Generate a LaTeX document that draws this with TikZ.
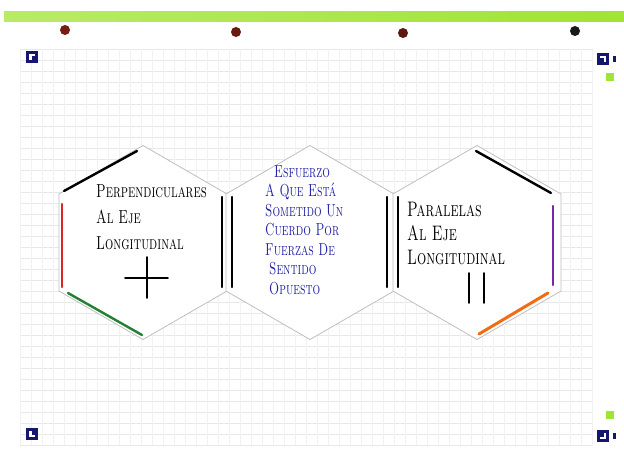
\documentclass[tikz,border=0pt]{standalone}
\usepackage{tikz}
\usepackage{graphicx}

\definecolor{band}{RGB}{160,228,52}
\definecolor{navy}{RGB}{22,22,112}
\definecolor{ink}{RGB}{34,34,165}
\definecolor{dotred}{RGB}{118,30,18}
\definecolor{markred}{RGB}{222,36,36}
\definecolor{markgreen}{RGB}{34,128,52}
\definecolor{markpurple}{RGB}{118,40,170}
\definecolor{markorange}{RGB}{242,108,22}

\newcommand{\tall}[1]{\scalebox{1}[1.45]{#1}}

\tikzset{
    gridh/.style={black!9, line width=0.4pt},
    gridv/.style={red!6!black!5, line width=0.4pt},
    hexa/.style={fill=white, draw=black!25, line width=0.8pt},
    pen/.style={line width=2.4pt, line cap=round},
    words/.style={font=\fontsize{13}{26}\selectfont\scshape, align=left, inner sep=0pt},
    blue words/.style={font=\fontsize{12}{19.5}\selectfont\scshape, text=ink, align=left, inner sep=0pt},
    marker/.pic={
        \fill[navy] (-6,-6) rectangle (6,6);
        \fill[white] (-3,-3) rectangle (3,-0.5);
        \fill[white] (-3,-3) rectangle (-0.5,3);
    }
}

\begin{document}
\begin{tikzpicture}[x=1pt, y=-1pt]
    \useasboundingbox (0,0) rectangle (624,457);
    \fill[white] (0,0) rectangle (624,457);

    % notebook page
    \shade[left color=band!75!white, right color=band] (4,12) rectangle (624,22);
    \foreach \px/\py/\col in {65/30/dotred, 236/32/dotred!90!black, 403/33/dotred!80!black, 575/31/black!90}
        \fill[\col] (\px,\py) circle (5);
    \foreach \gy in {49,60,...,446}
        \draw[gridh] (20,\gy) -- (592,\gy);
    \foreach \gx in {20,31,...,592}
        \draw[gridv] (\gx,49) -- (\gx,445);

    % corner marks
    \pic at (32,57) {marker};
    \pic[xscale=-1] at (603,59) {marker};
    \pic[yscale=-1] at (32,434) {marker};
    \pic[xscale=-1, yscale=-1] at (603,436) {marker};
    \fill[navy] (613,56) rectangle (615.5,62);
    \fill[navy] (613,433) rectangle (615.5,439);
    \fill[band] (606,73) rectangle (614,81);
    \fill[band] (606,411) rectangle (614,419);

    % hexagons
    \foreach \cx in {143,310,477}
        \draw[hexa] (\cx,242.5) +(90:97) -- +(30:97) -- +(-30:97) -- +(-90:97)
            -- +(-150:97) -- +(150:97) -- cycle;

    % coloured edges
    \draw[pen, black] (64,191) -- (137,151);
    \draw[pen, markred] (62,204) -- (62,287);
    \draw[pen, markgreen] (68,293) -- (142,335);
    \draw[pen, black] (476,151) -- (551,193);
    \draw[pen, markpurple] (553,206) -- (553,285);
    \draw[pen, markorange, line width=3pt] (548,293) -- (479,334);
    \foreach \lx in {222,232,387,398}
        \draw[pen, black] (\lx,197) -- (\lx,287);

    % texts
    \node[words, anchor=north west] (perp) at (96,184)
        {\tall{Perpendiculares}\\\tall{Al Eje}\\\tall{Longitudinal}};
    \node[words, font=\fontsize{14.5}{24}\selectfont\scshape, anchor=north west] (para) at (407,202)
        {\tall{Paralelas}\\\tall{Al Eje}\\\tall{Longitudinal}};
    \node[blue words, anchor=north west] (def) at (265,165)
        {\hspace*{9pt}\tall{Esfuerzo}\\\tall{A Que Está}\\\tall{Sometido Un}\\\tall{Cuerdo Por}\\
         \tall{Fuerzas De}\\\hspace*{4pt}\tall{Sentido}\\\hspace*{4pt}\tall{Opuesto}};

    % symbols
    \draw[line width=1.8pt, line cap=round] (125,278) -- (168,278);
    \draw[line width=1.8pt, line cap=round] (147,257) -- (147,298);
    \draw[line width=1.8pt, line cap=round] (469,273) -- (469,303);
    \draw[line width=1.8pt, line cap=round] (484,273) -- (484,303);
\end{tikzpicture}
\end{document}
